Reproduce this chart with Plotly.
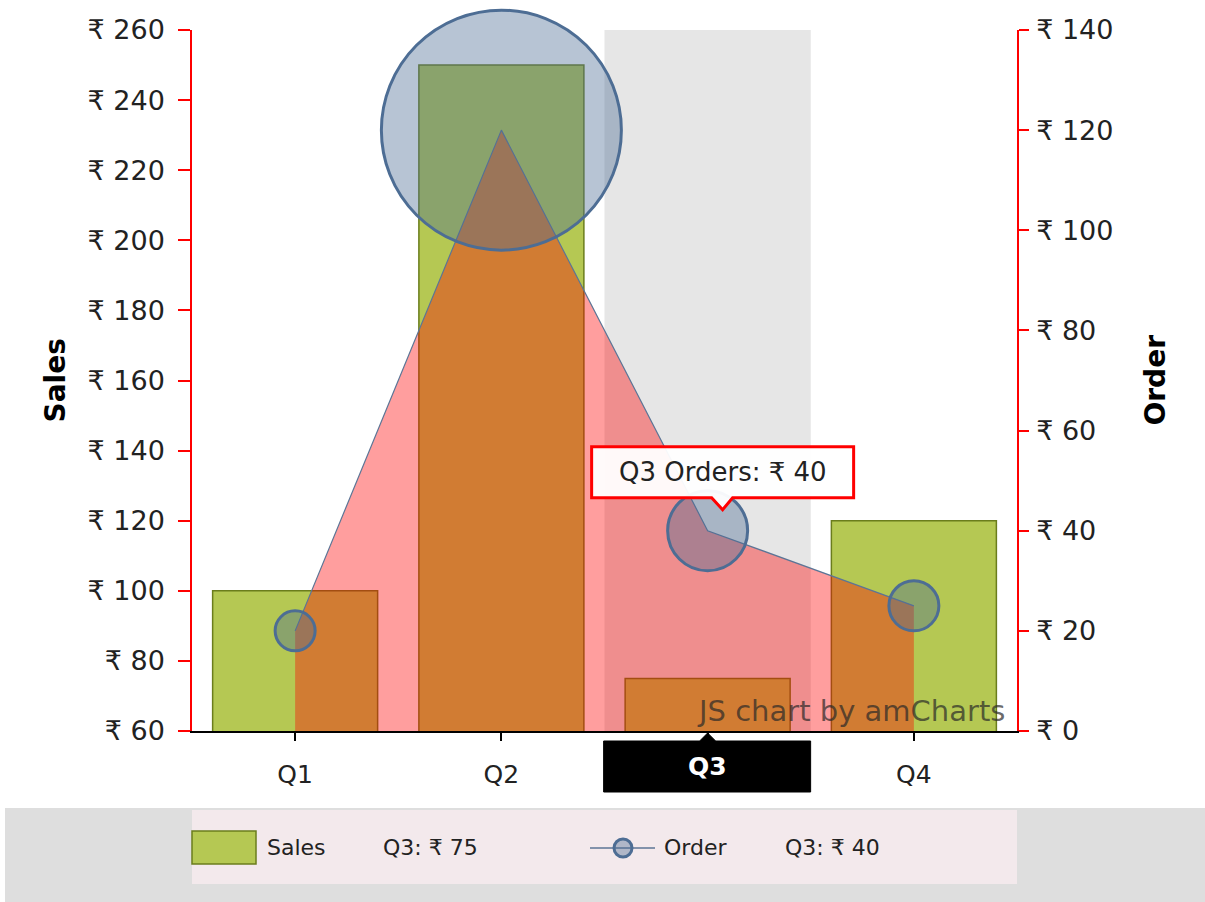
import plotly.graph_objects as go

# ---- data ----
categories = ["Q1", "Q2", "Q3", "Q4"]
sales = [100, 250, 75, 120]
orders = [20, 120, 40, 25]
sales_ticks = [60, 80, 100, 120, 140, 160, 180, 200, 220, 240, 260]
order_ticks = [0, 20, 40, 60, 80, 100, 120, 140]
highlight = "Q3"

# ---- geometry / style ----
W, H = 1205, 902
ML, MR, MT, MB = 192, 188, 30, 171
PW, PH = W - ML - MR, H - MT - MB
FONT = "DejaVu Sans"


def px(x):
    return (x - ML) / PW


def py(y):
    return (H - MB - y) / PH


hi = categories.index(highlight)

fig = go.Figure()

fig.add_trace(go.Bar(
    x=categories, y=sales, name="Sales", width=0.8,
    marker=dict(color="#b5c853", line=dict(color="#6b7d1c", width=1.5)),
    yaxis="y",
))

fig.add_trace(go.Scatter(
    x=categories, y=orders, name="Order", yaxis="y2",
    mode="lines+markers", fill="tozeroy",
    fillcolor="rgba(255,0,0,0.38)",
    line=dict(color="#5c7596", width=1.2),
    marker=dict(size=[2 * o for o in orders], sizemode="diameter", opacity=1,
                color="rgba(75,107,147,0.4)",
                line=dict(color="#4d6d94", width=3)),
    cliponaxis=False,
))

shapes = []
# cursor band
shapes.append(dict(type="rect", xref="x", yref="paper", x0=hi - 0.5, x1=hi + 0.5,
                   y0=0, y1=1, fillcolor="#e6e6e6", line=dict(width=0), layer="below"))
# value balloon
shapes.append(dict(type="path", xref="x", yref="y2", xsizemode="pixel", ysizemode="pixel",
                   xanchor=hi, yanchor=orders[hi],
                   path="M -116,84 L 146,84 L 146,33 L 25,33 L 15,21 L 4,33 L -116,33 Z",
                   fillcolor="rgba(255,255,255,0.95)", line=dict(color="#ff0000", width=3),
                   layer="above"))
# category balloon
shapes.append(dict(type="path", xref="x", yref="paper", xsizemode="pixel", ysizemode="pixel",
                   xanchor=hi, yanchor=0,
                   path="M -104,-10 L -8,-10 L 0,-2 L 8,-10 L 103,-10 L 103,-61 L -104,-61 Z",
                   fillcolor="#000000", line=dict(color="#000000", width=1), layer="above"))
# legend backgrounds
shapes.append(dict(type="rect", xref="paper", yref="paper", x0=px(5), x1=px(1210),
                   y0=py(808), y1=py(905), fillcolor="#dedede", line=dict(width=0), layer="above"))
shapes.append(dict(type="rect", xref="paper", yref="paper", x0=px(192), x1=px(1017),
                   y0=py(810), y1=py(884), fillcolor="#f3e9ec", line=dict(width=0), layer="above"))
# legend markers
shapes.append(dict(type="rect", xref="paper", yref="paper", x0=px(192), x1=px(256),
                   y0=py(831), y1=py(864), fillcolor="#b5c853",
                   line=dict(color="#6b7d1c", width=1.5), layer="above"))
shapes.append(dict(type="line", xref="paper", yref="paper", x0=px(590), x1=px(655),
                   y0=py(848), y1=py(848), line=dict(color="#5c7596", width=1.5), layer="above"))
shapes.append(dict(type="circle", xref="paper", yref="paper", x0=px(614), x1=px(632),
                   y0=py(857), y1=py(839), fillcolor="rgba(75,107,147,0.4)",
                   line=dict(color="#4d6d94", width=3), layer="above"))

annotations = []
annotations.append(dict(x=hi, y=orders[hi], xref="x", yref="y2", xshift=15, yshift=58.5,
                        text=f"{highlight} Orders: ₹ {orders[hi]}", showarrow=False,
                        font=dict(family=FONT, size=26, color="#222222")))
annotations.append(dict(x=hi, y=0, xref="x", yref="paper", yshift=-35.5, yanchor="middle",
                        text=f"<b>{highlight}</b>", showarrow=False,
                        font=dict(family=FONT, size=25, color="#ffffff")))
annotations.append(dict(x=px(55), y=0.5, xref="paper", yref="paper", text="<b>Sales</b>",
                        xanchor="center", yanchor="middle",
                        textangle=-90, showarrow=False,
                        font=dict(family=FONT, size=28, color="#000000")))
annotations.append(dict(x=px(1155), y=0.5, xref="paper", yref="paper", text="<b>Order</b>",
                        xanchor="center", yanchor="middle",
                        textangle=-90, showarrow=False,
                        font=dict(family=FONT, size=28, color="#000000")))
annotations.append(dict(x=px(1007), y=py(711), xref="paper", yref="paper", xanchor="right",
                        yanchor="middle", text="JS chart by amCharts", showarrow=False,
                        font=dict(family=FONT, size=29, color="rgba(40,40,40,0.7)")))
leg_font = dict(family=FONT, size=22, color="#222222")
for xx, txt in [(265, "Sales"), (381, f"{highlight}: ₹ {sales[hi]}"),
                (662, "Order"), (783, f"{highlight}: ₹ {orders[hi]}")]:
    annotations.append(dict(x=px(xx), y=py(848), xref="paper", yref="paper", xanchor="left",
                            yanchor="middle", text=txt, showarrow=False, font=leg_font))

# the highlighted category's tick label is covered by the category balloon
x_ticktext = ["" if c == highlight else c for c in categories]

fig.update_layout(
    width=W, height=H, autosize=False,
    margin=dict(l=ML, r=MR, t=MT, b=MB, pad=0),
    paper_bgcolor="#ffffff", plot_bgcolor="rgba(0,0,0,0)",
    showlegend=False, bargap=0.2,
    font=dict(family=FONT, size=26, color="#222222"),
    xaxis=dict(type="category", range=[-0.5, len(categories) - 0.5], showgrid=False,
               tickvals=categories, ticktext=x_ticktext,
               showline=True, linecolor="#000000", linewidth=1.5,
               ticks="outside", ticklen=8, tickcolor="#000000", tickwidth=1.5,
               tickfont=dict(family=FONT, size=25, color="#222222"), ticklabelstandoff=12),
    yaxis=dict(range=[sales_ticks[0], sales_ticks[-1]], tickvals=sales_ticks,
               ticktext=[f"₹ {v}" for v in sales_ticks], showgrid=False, zeroline=False,
               showline=True, linecolor="#ff0000", linewidth=1.5,
               ticks="outside", ticklen=12, tickcolor="#ff0000", tickwidth=1.5,
               tickfont=dict(family=FONT, size=27, color="#222222"), ticklabelstandoff=8),
    yaxis2=dict(range=[order_ticks[0], order_ticks[-1]], tickvals=order_ticks,
                ticktext=[f"₹ {v}" for v in order_ticks], overlaying="y", side="right",
                showgrid=False, zeroline=False,
                showline=True, linecolor="#ff0000", linewidth=1.5,
                ticks="outside", ticklen=10, tickcolor="#ff0000", tickwidth=1.5,
                tickfont=dict(family=FONT, size=27, color="#222222"), ticklabelstandoff=2),
    shapes=shapes, annotations=annotations,
)

fig.write_html("out.html", config={"displayModeBar": False},
               post_script="document.body.style.margin='0';document.body.style.overflow='hidden';")
